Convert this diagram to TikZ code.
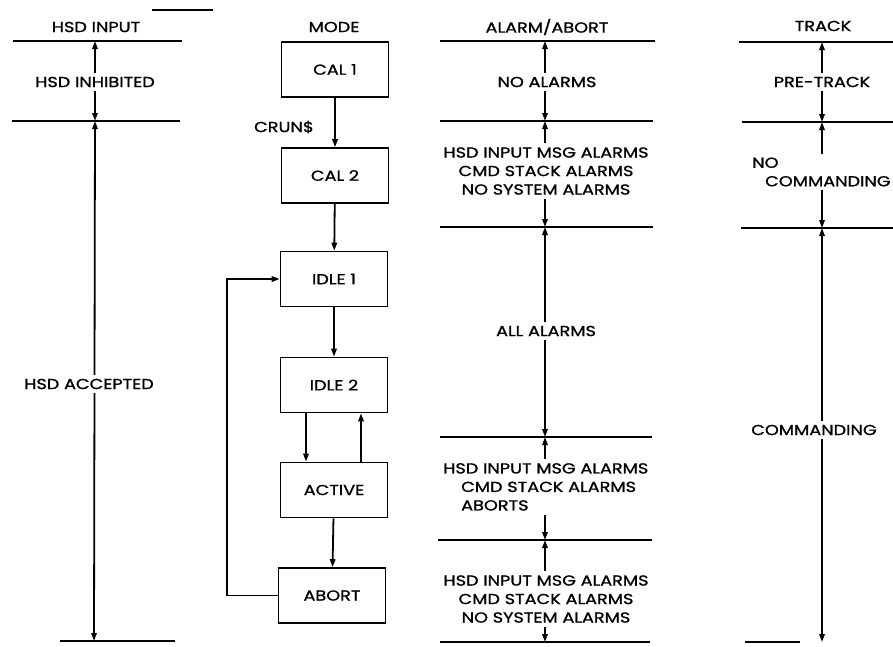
\documentclass[tikz,border=0pt]{standalone}
\usepackage{fontspec}
\setmainfont{Poppins}[FakeStretch=1.22,FakeBold=1.2]
\usetikzlibrary{arrows.meta}
\begin{document}
\begin{tikzpicture}[x=1pt,y=-1pt,
  tip/.tip={Triangle[length=8pt,width=5.4pt]},
  sepline/.style={line width=1.7pt},
  thinsep/.style={line width=1.2pt},
  arr/.style={line width=1.8pt,-tip},
  dbl/.style={line width=1.8pt,tip-tip},
  box/.style={draw,line width=1.6pt,minimum width=107pt,minimum height=55pt,inner sep=0pt,font=\fontsize{14.5}{15}\selectfont},
  txt/.style={font=\fontsize{14.5}{18.5}\selectfont,inner sep=0pt},
  lbl/.style={txt,fill=white,inner xsep=1pt,inner ysep=4pt},
]
\useasboundingbox (0,0) rectangle (893,646);

% stray line at top
\coordinate (s1) at (152,10); \coordinate (s2) at (213,10);
\draw[thinsep] (s1) -- (s2);

% ---------------- HSD INPUT column ----------------
\node[txt] (hhead) at (96,27) {HSD INPUT};
\coordinate (hL1) at (13,41);  \coordinate (hR1) at (182,41);
\coordinate (hL2) at (12,121); \coordinate (hR2) at (180,121);
\coordinate (hL3) at (60,641); \coordinate (hR3) at (175,641);
\draw[sepline] (hL1) -- (hR1);
\draw[thinsep] (hL2) -- (hR2);
\draw[thinsep] (hL3) -- (hR3);
\coordinate (ha1) at (95,41); \coordinate (ha2) at (95,121); \coordinate (ha3) at (94,641);
\draw[dbl] (ha1) -- (ha2);
\draw[dbl] (ha2) -- (ha3);
\node[lbl] (hinh) at (95,82) {HSD INHIBITED};
\node[lbl] (hacc) at (89,384) {HSD ACCEPTED};

% ---------------- MODE column ----------------
\node[txt] (mhead) at (334,27) {MODE};
\node[box] (cal1)   at (335,69.5)  {CAL 1};
\node[box] (cal2)   at (335,175.5) {CAL 2};
\node[box] (idle1)  at (334,279)   {IDLE 1};
\node[box] (idle2)  at (334,385)   {IDLE 2};
\node[box] (active) at (334,490)   {ACTIVE};
\node[box] (abort)  at (332,595.5) {ABORT};
\draw[arr] (cal1) -- (cal2);
\node[txt] (crun) at (284,127) {CRUN\$};
\draw[arr] (cal2) -- (idle1);
\draw[arr] (idle1) -- (idle2);
\draw[arr] ([xshift=-28pt]idle2.south) -- ([xshift=-28pt]active.north);
\draw[arr] ([xshift=27pt]active.north) -- ([xshift=27pt]idle2.south);
\draw[arr] (active) -- (abort);
\draw[arr] (abort.west) -- ++(-51,0) |- (idle1.west);

% ---------------- ALARM/ABORT column ----------------
\node[txt] (ahead) at (547,27) {ALARM/ABORT};
\foreach \n/\y/\l/\r/\w in {1/41/440/655/1.7, 2/121/440/653/1.2, 3/227/440/653/1.7, 4/437/440/652/1.2, 5/540/438/652/1.2, 6/642/440/650/1.2}{
  \coordinate (aL\n) at (\l,\y); \coordinate (aR\n) at (\r,\y);
  \draw[line width=\w pt] (aL\n) -- (aR\n);
  \coordinate (aa\n) at (545,\y);
}
\draw[dbl] (aa1) -- (aa2);
\draw[dbl] (aa2) -- (aa3);
\draw[dbl] (aa3) -- (aa4);
\draw[dbl] (aa4) -- (aa5);
\draw[dbl] (aa5) -- (aa6);
\node[lbl] (anone) at (547,82) {NO ALARMS};
\node[lbl,align=center] (ahsd1) at (546,171) {HSD INPUT MSG ALARMS\\CMD STACK ALARMS\\NO SYSTEM ALARMS};
\node[lbl] (aall) at (546,331) {ALL ALARMS};
\node[lbl,align=left,anchor=north west] (ahsd2) at (442,459) {HSD INPUT MSG ALARMS\\\hspace*{18pt}CMD STACK ALARMS\\\hspace*{18pt}ABORTS};
\node[lbl,align=center] (ahsd3) at (546,599) {HSD INPUT MSG ALARMS\\CMD STACK ALARMS\\NO SYSTEM ALARMS};

% ---------------- TRACK column ----------------
\node[txt] (thead) at (823,26) {TRACK};
\coordinate (tL1) at (739,42);  \coordinate (tR1) at (893,42);
\coordinate (tL2) at (742,122); \coordinate (tR2) at (893,122);
\coordinate (tL3) at (741,228); \coordinate (tR3) at (893,228);
\coordinate (tL4) at (745,642); \coordinate (tR4) at (800,642);
\draw[sepline] (tL1) -- (tR1);
\draw[thinsep] (tL2) -- (tR2);
\draw[thinsep] (tL3) -- (tR3);
\draw[thinsep] (tL4) -- (tR4);
\coordinate (ta1) at (822,42); \coordinate (ta2) at (822,122);
\coordinate (ta3) at (822,228); \coordinate (ta4) at (822,642);
\draw[dbl] (ta1) -- (ta2);
\draw[dbl] (ta2) -- (ta3);
\draw[dbl] (ta3) -- (ta4);
\node[lbl] (tpre) at (822,82) {PRE-TRACK};
\node[lbl,align=left,anchor=west] (tnoc) at (751,172) {NO\\\hspace*{13pt}COMMANDING};
\node[lbl] (tcom) at (814,430) {COMMANDING};
\end{tikzpicture}
\end{document}
